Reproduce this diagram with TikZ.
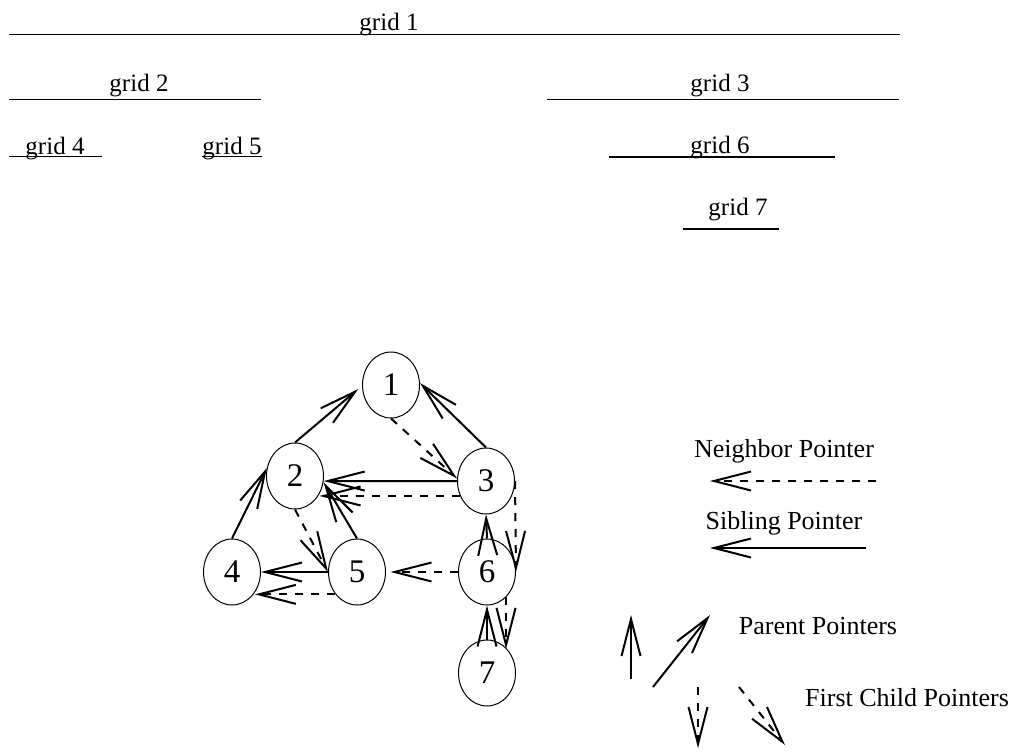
\documentclass[tikz,border=0pt]{standalone}
\usepackage{fontspec}
\setmainfont{Liberation Serif}
\usetikzlibrary{arrows.meta,shapes.geometric}
\begin{document}
\begin{tikzpicture}[x=1pt,y=-1pt,
  gnode/.style={draw, ellipse, line width=1pt, minimum width=57pt, minimum height=66pt, inner sep=0pt, font=\fontsize{33}{33}\selectfont},
  ptr/.style={line width=2pt, -{Straight Barb[length=37pt,width=19pt,line width=2pt]}},
  dptr/.style={ptr, dash pattern=on 8pt off 8pt},
  gridline/.style={line width=1.3pt},
  gridlabel/.style={anchor=base, inner sep=0pt, font=\fontsize{25}{25}\selectfont},
  legendlabel/.style={anchor=base, inner sep=0pt, font=\fontsize{26}{26}\selectfont}]
\useasboundingbox (0,0) rectangle (1017,752);

% grid hierarchy
\node[gridlabel] (g1) at (389,30.7) {grid 1};
\draw[gridline] (9,34.5) -- (900,34.5);
\node[gridlabel] (g2) at (139,91.7) {grid 2};
\draw[gridline] (9,99.3) -- (261,99.3);
\node[gridlabel] (g3) at (720,91.7) {grid 3};
\draw[gridline] (547,99.3) -- (899,99.3);
\node[gridlabel] (g4) at (55,154) {grid 4};
\draw[gridline] (9,156.7) -- (102,156.7);
\node[gridlabel] (g5) at (232,154) {grid 5};
\draw[gridline] (202,156.7) -- (262,156.7);
\node[gridlabel] (g6) at (720,153.5) {grid 6};
\draw[gridline] (609,157) -- (835,157);
\node[gridlabel] (g7) at (738,215) {grid 7};
\draw[gridline] (683,229) -- (779,229);

% tree nodes
\node[gnode] (n1) at (391,385) {1};
\node[gnode] (n2) at (295,476) {2};
\node[gnode] (n3) at (486,481) {3};
\node[gnode] (n4) at (232,572) {4};
\node[gnode] (n5) at (357,572) {5};
\node[gnode] (n6) at (487,572) {6};
\node[gnode] (n7) at (487,673) {7};

% parent pointers
\draw[ptr] (n2.north) -- ([xshift=-4pt]n1.188);
\draw[ptr] (n3.north) -- (n1.4);
\draw[ptr] (n5.north) -- (n2.348);
\draw[ptr] (n4.north) -- (n2.164);
\draw[ptr] (n6.north) -- (n3.south);
\draw[ptr] (n7.north) -- (n6.south);
% sibling pointers
\draw[ptr] (n3.west) -- (n2.350);
\draw[ptr] (n5.west) -- (n4.east);
% first child pointers
\draw[dptr] (n1.south) -- (n3.175);
\draw[dptr] (n2.south) -- (n5.west);
\draw[dptr] (n3.east) -- (n6.east);
\draw[dptr] (n6.307) -- (n6.307 |- n7.50);
% neighbor pointers
\draw[dptr] (n3.210) -- (n2.324 |- n3.210);
\draw[dptr] (n5.226) -- (n4.318 |- n5.226);
\draw[dptr] (n6.west) -- ([xshift=4.5pt]n5.east);

% legend
\node[legendlabel] (lneigh) at (784,457.3) {Neighbor Pointer};
\coordinate (na) at (876,481);
\coordinate (nb) at (710,481);
\draw[dptr] (na) -- (nb);
\node[legendlabel] (lsib) at (784,529) {Sibling Pointer};
\coordinate (sa) at (866,548);
\coordinate (sb) at (710,548);
\draw[ptr] (sa) -- (sb);
\coordinate (pa1) at (631,679);
\coordinate (pb1) at (631,615);
\draw[ptr] (pa1) -- (pb1);
\coordinate (pa2) at (653,687);
\coordinate (pb2) at (710,615);
\draw[ptr] (pa2) -- (pb2);
\node[legendlabel] (lpar) at (818,634) {Parent Pointers};
\coordinate (fa1) at (698,687);
\coordinate (fb1) at (698,748);
\draw[dptr] (fa1) -- (fb1);
\coordinate (fa2) at (739,687);
\coordinate (fb2) at (785,745);
\draw[dptr] (fa2) -- (fb2);
\node[legendlabel] (lfc) at (907,706.7) {First Child Pointers};
\end{tikzpicture}
\end{document}
